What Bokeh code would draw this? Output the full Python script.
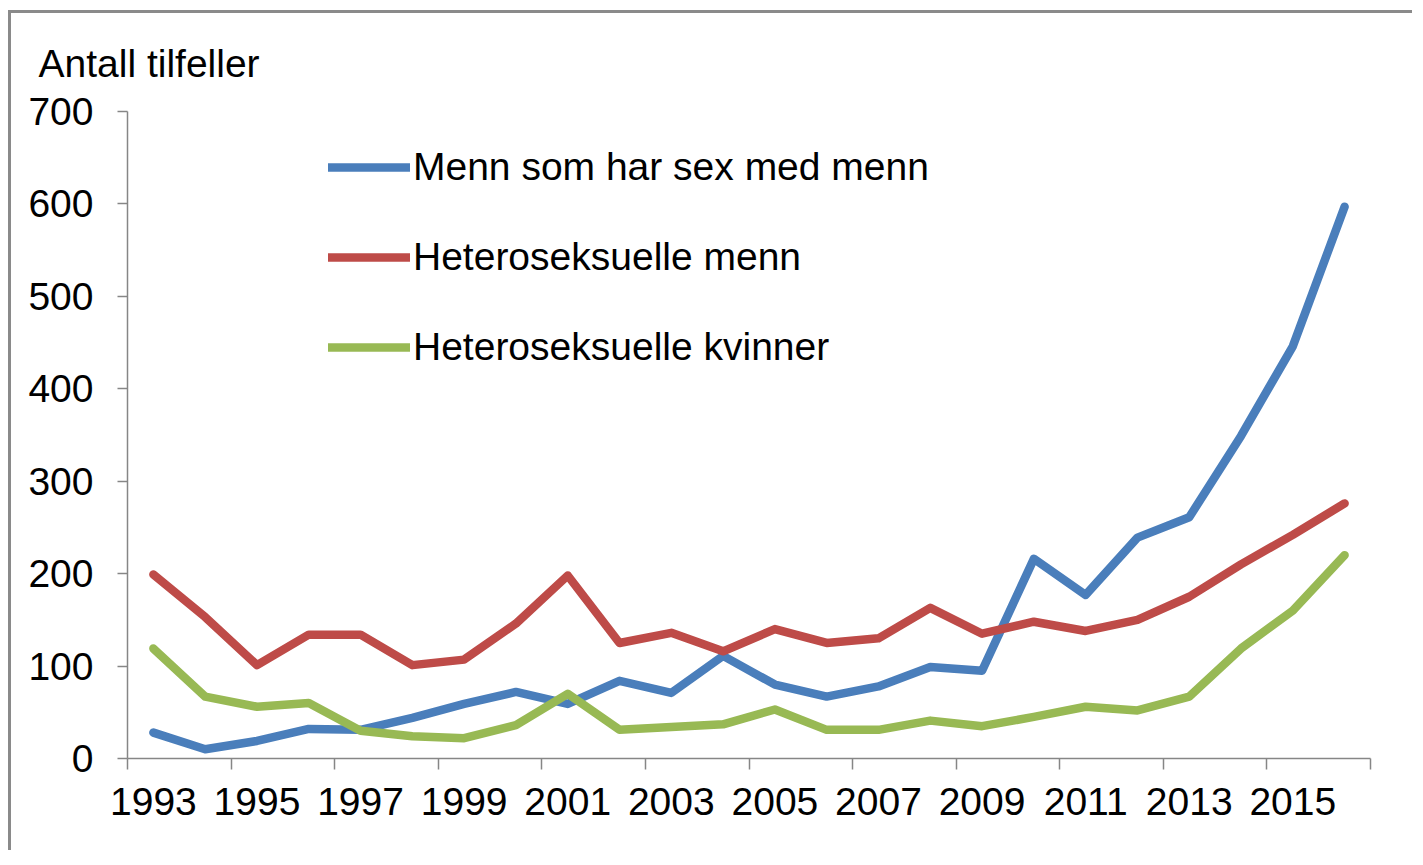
from bokeh.plotting import figure
from bokeh.models import Legend, LegendItem, LinearAxis, FixedTicker, Title, Range1d
from bokeh.embed import file_html
from bokeh.resources import INLINE

years = list(range(1993, 2017))
msm = [28, 10, 19, 32, 31, 44, 59, 72, 59, 84, 71, 111, 80, 67, 78, 99, 95, 216, 177, 239, 261, 349, 446, 597]
het_men = [199, 153, 101, 134, 134, 101, 107, 146, 198, 125, 136, 116, 140, 125, 130, 163, 135, 148, 138, 150, 175, 210, 242, 276]
het_women = [119, 67, 56, 60, 30, 24, 22, 36, 70, 31, 34, 37, 53, 31, 31, 41, 35, 45, 56, 52, 67, 119, 160, 220]
series_names = ["Menn som har sex med menn", "Heteroseksuelle menn", "Heteroseksuelle kvinner"]
colors = ["#4A7EBB", "#BE4B48", "#98B954"]
y_ticks = [0, 100, 200, 300, 400, 500, 600, 700]
label_years = list(range(1993, 2017, 2))
boundaries = [y - 0.5 for y in range(1993, 2018, 2)]

FONT = "Liberation Sans"
AX = "#868686"

p = figure(width=1404, height=840, output_backend="svg", toolbar_location=None,
           x_range=Range1d(1992.5, 2016.5), y_range=Range1d(0, 700),
           min_border_left=116, min_border_top=97, min_border_right=45, min_border_bottom=95)
p.styles = {"border-top": "3px solid #8a8a8a", "border-left": "3px solid #8a8a8a",
            "margin-top": "10px", "margin-left": "8px"}
p.outline_line_color = None
p.grid.visible = False

renderers = []
for vals, c in zip([msm, het_men, het_women], colors):
    r = p.line(years, vals, line_color=c, line_width=8.5, line_cap="round", line_join="round")
    renderers.append(r)

# y axis
ya = p.yaxis[0]
ya.ticker = FixedTicker(ticks=y_ticks)
ya.axis_line_color = AX
ya.axis_line_width = 1.5
ya.major_tick_line_color = AX
ya.major_tick_line_width = 1.5
ya.major_tick_in = 0
ya.major_tick_out = 10
ya.minor_tick_line_color = None
ya.major_label_standoff = 24
ya.major_label_text_font = FONT
ya.major_label_text_font_size = "39px"
ya.major_label_text_color = "#000000"

# x axis: tick marks at category boundaries
xa = p.xaxis[0]
xa.ticker = FixedTicker(ticks=boundaries)
xa.axis_line_color = AX
xa.axis_line_width = 1.5
xa.major_tick_line_color = AX
xa.major_tick_line_width = 1.5
xa.major_tick_in = 0
xa.major_tick_out = 11
xa.minor_tick_line_color = None
xa.major_label_standoff = 0
xa.major_label_overrides = {b: "" for b in boundaries}
xa.major_label_text_font_size = "1px"

# x labels centred on categories
xl = LinearAxis(ticker=FixedTicker(ticks=label_years))
xl.axis_line_color = None
xl.major_tick_line_color = None
xl.minor_tick_line_color = None
xl.major_label_standoff = 12
xl.major_label_text_font = FONT
xl.major_label_text_font_size = "39px"
xl.major_label_text_color = "#000000"
p.add_layout(xl, "below")

# y title above the plot area
p.add_layout(Title(text="Antall tilfeller", align="left", offset=-89, standoff=53,
                   text_font=FONT, text_font_size="39px", text_color="#000000",
                   text_font_style="normal"), "above")

legend = Legend(items=[LegendItem(label=n, renderers=[r]) for n, r in zip(series_names, renderers)],
                location=(201, 386), orientation="vertical",
                border_line_color=None, background_fill_alpha=0,
                padding=0, margin=0, spacing=40,
                glyph_width=82, glyph_height=50, label_height=50, label_standoff=3,
                label_text_font=FONT, label_text_font_size="39px", label_text_color="#000000")
p.add_layout(legend, "center")

open("out.html", "w").write(file_html(p, INLINE))
